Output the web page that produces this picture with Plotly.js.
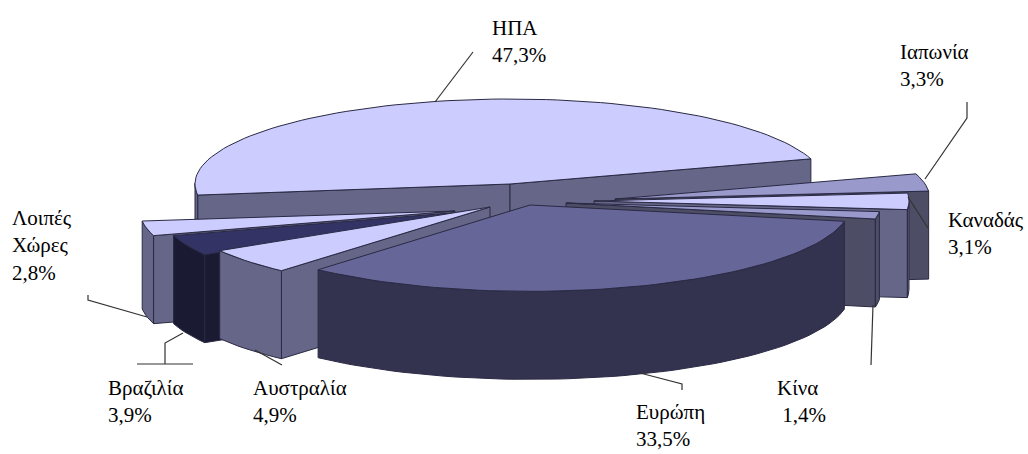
<!DOCTYPE html>
<html>
<head>
<meta charset="utf-8">
<script src="https://cdn.plot.ly/plotly-3.0.1.min.js"></script>
<style>html,body{margin:0;padding:0;background:#fff}#chart{width:1028px;height:454px}</style>
</head>
<body>
<div id="chart"></div>
<script>
// Share of each region, percent, clockwise from the top slice.
const regions = ['ΗΠΑ', 'Ιαπωνία', 'Καναδάς', 'Κίνα', 'Ευρώπη', 'Αυστραλία', 'Βραζιλία', 'Λοιπές<br>Χώρες'];
const shares = [47.3, 3.3, 3.1, 1.4, 33.5, 4.9, 3.9, 2.8];

// Face colours per slice.
const topColors = ['#ccccff', '#9999cc', '#ccccff', '#9999cc', '#666699', '#ccccff', '#333366', '#ccccff'];
const wallColors = ['#666688', '#4d4d66', '#666688', '#4d4d66', '#333350', '#666688', '#1a1a33', '#666688'];

// Tip of each pulled-out wedge in the pie plane, and its radius relative to the pie.
const tipX = [510, 615, 594, 566, 530, 490, 475, 455];
const tipY = [184, 199, 201, 203, 205, 207, 211, 211];
const radiusScale = [1, 1, 1, 1, 1.016, 1, 1, 1];

// Label anchors (left edge, vertical middle of the block).
const labelX = [491, 899, 947, 776, 635, 252, 107, 11];
const labelY = [41, 65, 233, 401, 425, 401, 401, 245];

// Leader lines running from the labels to the slices, plus the crease on the rear wall.
const leaders = [
  [[473, 52], [435, 102]],
  [[967, 102], [967, 118], [925, 179]],
  [[873, 305], [871, 365]],
  [[640, 373], [682, 384], [682, 390]],
  [[255, 350], [282, 365]],
  [[183, 333], [165, 343], [165, 364]],
  [[137, 364], [193, 364]],
  [[88, 295], [88, 300], [147, 317]],
  [[908, 197], [928, 228]]
];

const RX = 315, RY = 85, DEPTH = 88, START = 187.5;
const EDGE = '#2a2a44';

function project(i, deg) {
  const a = deg * Math.PI / 180;
  return [tipX[i] + RX * radiusScale[i] * Math.cos(a), tipY[i] - RY * radiusScale[i] * Math.sin(a)];
}

function polyTrace(xs, ys, fill) {
  return {x: xs, y: ys, type: 'scatter', mode: 'lines', fill: 'toself', fillcolor: fill,
          line: {color: EDGE, width: 1}, hoverinfo: 'skip', showlegend: false};
}

// Extrude one edge downwards to form a wall polygon.
function wall(points, fill) {
  const xs = points.map(p => p[0]).concat(points.slice().reverse().map(p => p[0]));
  const ys = points.map(p => p[1]).concat(points.slice().reverse().map(p => p[1] + DEPTH));
  xs.push(xs[0]); ys.push(ys[0]);
  return polyTrace(xs, ys, fill);
}

const spans = [];
let cursor = START;
shares.forEach(v => { const sweep = v / 100 * 360; spans.push([cursor, cursor - sweep]); cursor -= sweep; });

// Back-to-front order follows how far each wedge's middle sits from the viewer.
const order = shares.map((_, i) => i).sort((p, q) => {
  const m = s => Math.sin((s[0] + s[1]) / 2 * Math.PI / 180);
  return m(spans[q]) - m(spans[p]);
});

const traces = [];
order.forEach(i => {
  const [from, to] = spans[i];
  const steps = Math.max(4, Math.round((from - to) / 2));
  const arc = [];
  for (let k = 0; k <= steps; k++) arc.push(project(i, from + (to - from) * k / steps));
  const tip = [tipX[i], tipY[i]];
  // Going clockwise on screen, an edge faces the viewer when it runs leftward.
  if (arc[0][0] < tip[0]) traces.push(wall([tip, arc[0]], wallColors[i]));
  if (tip[0] < arc[steps][0]) traces.push(wall([arc[steps], tip], wallColors[i]));
  let run = [];
  for (let k = 0; k < steps; k++) {
    if (arc[k + 1][0] < arc[k][0]) {
      if (!run.length) run.push(arc[k]);
      run.push(arc[k + 1]);
    } else if (run.length) { traces.push(wall(run, wallColors[i])); run = []; }
  }
  if (run.length) traces.push(wall(run, wallColors[i]));
  const outline = [tip].concat(arc, [tip]);
  traces.push(polyTrace(outline.map(p => p[0]), outline.map(p => p[1]), topColors[i]));
});

const annotations = regions.map((name, i) => ({
  x: labelX[i], y: labelY[i], xref: 'x', yref: 'y', xanchor: 'left', yanchor: 'middle', align: 'left',
  showarrow: false, borderpad: 0,
  text: name + '<br>' + (name === 'Κίνα' ? ' ' : '') + shares[i].toFixed(1).replace('.', ',') + '%',
  font: {family: '"Liberation Serif", serif', size: 21, color: '#000'}
}));

const shapes = leaders.map(pts => ({
  type: 'path', xref: 'x', yref: 'y',
  path: pts.map((p, k) => (k ? 'L' : 'M') + p[0] + ',' + p[1]).join(' '),
  line: {color: '#333', width: 1.2}
}));

Plotly.newPlot('chart', traces, {
  width: 1028, height: 454, margin: {l: 0, r: 0, t: 0, b: 0},
  paper_bgcolor: '#fff', plot_bgcolor: '#fff', showlegend: false,
  xaxis: {range: [0, 1028], visible: false, fixedrange: true},
  yaxis: {range: [454, 0], visible: false, fixedrange: true},
  annotations, shapes
}, {displayModeBar: false, staticPlot: true});
</script>
</body>
</html>
